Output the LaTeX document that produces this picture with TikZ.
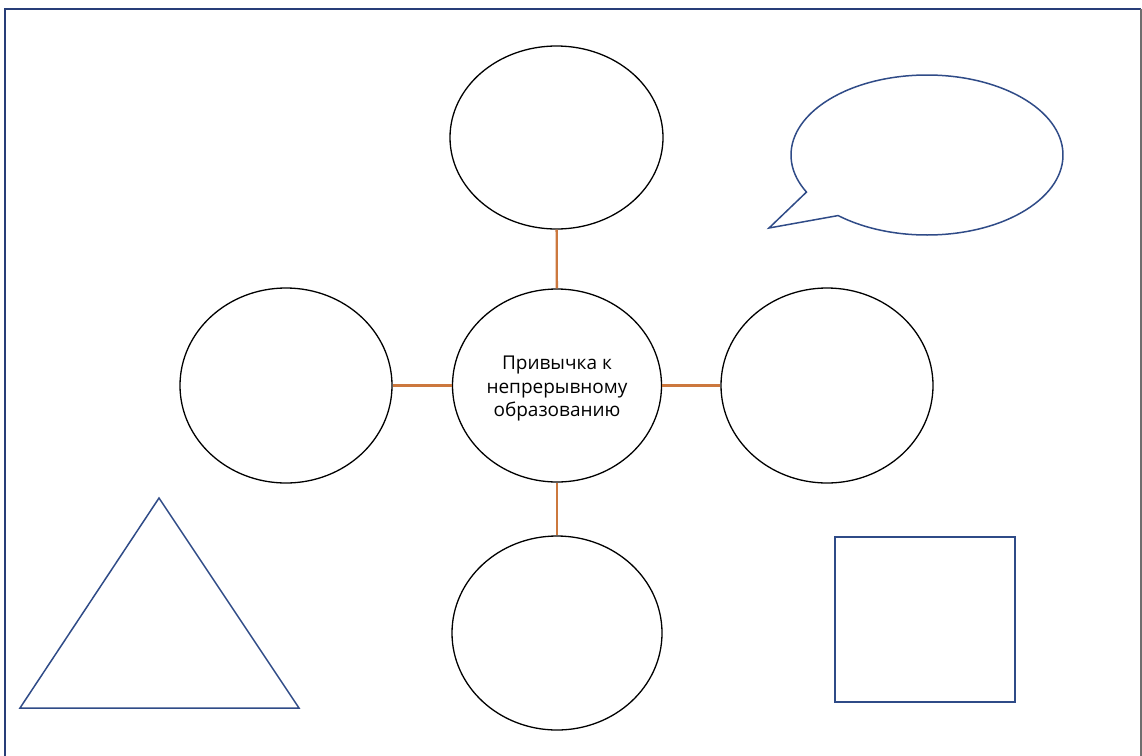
\documentclass[tikz,border=0pt]{standalone}
\usepackage{fontspec}
\setmainfont{Open Sans}
\usetikzlibrary{shapes.geometric,calc}
\definecolor{navy}{RGB}{40,62,120}
\definecolor{shapeblue}{RGB}{47,75,135}
\definecolor{linkorange}{RGB}{204,120,62}
\definecolor{framegray}{RGB}{110,110,110}
\tikzset{
  bubblenode/.style={draw=black, line width=1.3pt, ellipse, inner sep=0pt},
  bubbletext/.style={align=center, inner sep=0pt, font=\fontsize{19}{23.5}\selectfont},
  link/.style={draw=linkorange, line width=2.4pt},
  blueshape/.style={draw=shapeblue, line width=1.5pt, line join=miter},
}
\begin{document}
\begin{tikzpicture}[x=1pt,y=-1pt]
\useasboundingbox (0,0) rectangle (1142,755);
% frame
\draw[navy, line width=2.2pt] (5,760) -- (5,9) -- (1141,9);
\draw[framegray, line width=1.2pt] (1141,9) -- (1141,760);
% circles
\node[bubblenode, minimum width=209pt, minimum height=193pt] (c) at (557,385.5) {};
\node[bubbletext] (ctext) at ([yshift=-3pt]c.center) {Привычка к\\непрерывному\\образованию};
\node[bubblenode, minimum width=213pt, minimum height=183pt] (t) at (556.5,137.5) {};
\node[bubblenode, minimum width=212pt, minimum height=195pt] (l) at (286,385.5) {};
\node[bubblenode, minimum width=212pt, minimum height=195pt] (r) at (827,385.5) {};
\node[bubblenode, minimum width=210pt, minimum height=194pt] (b) at (557,633) {};
% links
\draw[link] (t) -- (c);
\draw[link] (l) -- (c);
\draw[link] (c) -- (r);
\draw[link] (c) -- (b);
% speech bubble
\coordinate (bc) at (927,155);
\draw[blueshape] ($(bc)+(152.4:136 and 80)$) -- (769,228) -- ($(bc)+(130.8:136 and 80)$)
  arc[start angle=130.8, end angle=-207.6, x radius=136, y radius=80] -- cycle;
% triangle
\coordinate (ta) at (159,498);
\coordinate (tl) at (20,708);
\coordinate (tr) at (299,708);
\draw[blueshape] (ta) -- (tr) -- (tl) -- cycle;
% square
\coordinate (s1) at (835,537);
\coordinate (s2) at (1015,702);
\draw[blueshape] (s1) rectangle (s2);
\end{tikzpicture}
\end{document}
